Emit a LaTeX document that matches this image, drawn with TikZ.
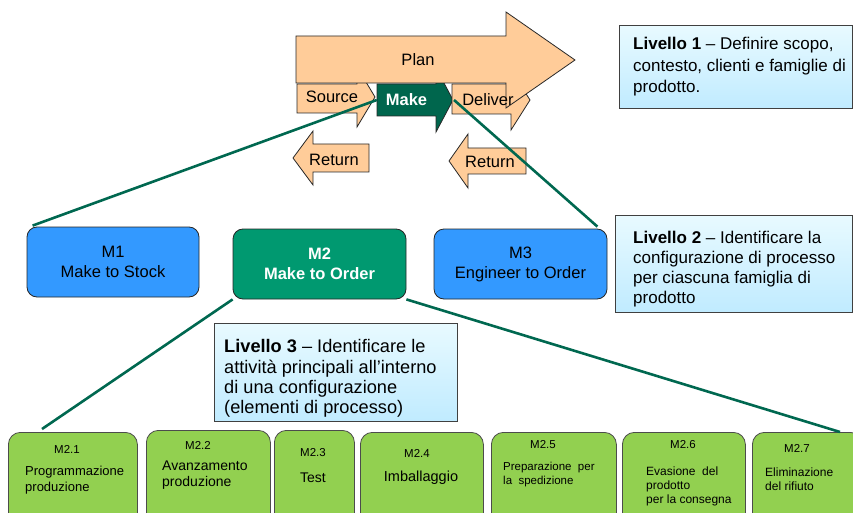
\documentclass[tikz,border=0pt]{standalone}
\usepackage{fontspec}
\setmainfont{Liberation Sans}
\definecolor{peach}{RGB}{255,204,153}
\definecolor{outl}{RGB}{40,40,40}
\definecolor{makegreen}{RGB}{0,102,77}
\definecolor{linegreen}{RGB}{0,104,80}
\definecolor{mtwo}{RGB}{0,153,112}
\definecolor{mblue}{RGB}{51,153,255}
\definecolor{boxgreen}{RGB}{146,208,80}
\definecolor{cyantop}{RGB}{232,250,255}
\definecolor{cyanbot}{RGB}{192,235,255}
\begin{document}
\begin{tikzpicture}[x=1pt,y=-1pt,
  peachshape/.style={fill=peach, draw=outl, line width=0.8pt, line join=miter},
  arrtxt/.style={font=\fontsize{16.5}{20}\selectfont, inner sep=0pt},
  mbox/.style={rounded corners=10pt, draw=black!85, line width=0.8pt, minimum width=173pt, minimum height=70pt, align=center, inner sep=0pt, font=\fontsize{16.5}{20}\selectfont},
  gbox/.style={rounded corners=12pt, draw=black!70, line width=0.8pt, fill=boxgreen, anchor=north west, minimum height=95pt, inner sep=0pt},
  lbox/.style={draw=black!75, line width=0.8pt, top color=cyantop, bottom color=cyanbot, anchor=north west, inner sep=0pt},
  ltext/.style={align=left, anchor=west, inner sep=0pt},
  glabel/.style={font=\fontsize{11.5}{14}\selectfont, inner sep=0pt},
  gtext/.style={align=left, anchor=west, inner sep=0pt},
  conn/.style={draw=linegreen, line width=2.6pt}]
\useasboundingbox (0,0) rectangle (853,513);
\clip (0,0) rectangle (853,513);

% Return arrows
\draw[peachshape] (293,158) -- (313,131) -- (313,144) -- (369,144) -- (369,172) -- (313,172) -- (313,185) -- cycle;
\draw[peachshape] (449,161) -- (468,134) -- (468,148) -- (526,148) -- (526,174) -- (468,174) -- (468,188) -- cycle;
% Source, Make, Deliver
\draw[peachshape] (297,84) -- (357,84) -- (357,67) -- (375,97) -- (357,127) -- (357,113) -- (297,113) -- cycle;
\draw[fill=makegreen, draw=outl, line width=0.8pt] (377,84) -- (436,84) -- (436,68) -- (453,100) -- (436,132) -- (436,116) -- (377,116) -- cycle;
\draw[peachshape] (452,84) -- (511,84) -- (511,70) -- (530,100) -- (511,130) -- (511,114) -- (452,114) -- cycle;
% Plan
\draw[peachshape] (296,36) -- (506,36) -- (506,12) -- (575,60) -- (506,108) -- (506,83) -- (296,83) -- cycle;

\node[arrtxt] (plan) at (418,60) {Plan};
\node[arrtxt] (source) at (332,97) {Source};
\node[arrtxt, minimum width=59pt, minimum height=32pt, text=white, font=\fontsize{16.5}{20}\selectfont\bfseries] (make) at (406.5,100) {Make};
\coordinate (maketip) at (454,100);
\node[arrtxt] (deliver) at (488,100) {Deliver};
\node[arrtxt] (return1) at (334,160) {Return};
\node[arrtxt] (return2) at (490,162) {Return};

% Level boxes
\node[lbox, minimum width=233pt, minimum height=83pt] (liv1box) at (619,25) {};
\node[ltext, font=\fontsize{17}{21.5}\selectfont] (liv1) at (633,67) {\textbf{Livello 1} -- Definire scopo,\\contesto, clienti e famiglie di\\prodotto.};
\node[lbox, minimum width=237pt, minimum height=97pt] (liv2box) at (615,215) {};
\node[ltext, font=\fontsize{17}{20}\selectfont] (liv2) at (633,269) {\textbf{Livello 2} -- Identificare la\\configurazione di processo\\per ciascuna famiglia di\\prodotto};
\node[lbox, minimum width=243pt, minimum height=98pt] (liv3box) at (214,323) {};
\node[ltext, font=\fontsize{18.2}{20.3}\selectfont] (liv3) at (224,378.5) {\textbf{Livello 3} -- Identificare le\\attività principali all’interno\\di una configurazione\\(elementi di processo)};

% M boxes
\node[mbox, fill=mblue, minimum width=172pt] (m1) at (113,262) {M1\\Make to Stock};
\node[mbox, fill=mtwo, text=white, font=\fontsize{16.5}{20}\selectfont\bfseries] (m2) at (319.5,264) {M2\\Make to Order};
\node[mbox, fill=mblue] (m3) at (520.5,264) {M3\\Engineer to Order};

% Green boxes
\node[gbox, minimum width=129pt] (m21) at (8,432) {};
\node[gbox, minimum width=124pt] (m22) at (146,430) {};
\node[gbox, minimum width=80pt] (m23) at (274,430) {};
\node[gbox, minimum width=123pt] (m24) at (360,432) {};
\node[gbox, minimum width=125pt] (m25) at (491,432) {};
\node[gbox, minimum width=123pt] (m26) at (622,432) {};
\node[gbox, minimum width=110pt] (m27) at (752,432) {};

\node[glabel] (l21) at (67,449) {M2.1};
\node[gtext, font=\fontsize{13}{16}\selectfont] (t21) at (25,480) {Programmazione\\produzione};
\node[glabel] (l22) at (198,445) {M2.2};
\node[gtext, font=\fontsize{14}{16}\selectfont] (t22) at (162,475) {Avanzamento\\produzione};
\node[glabel] (l23) at (313,453) {M2.3};
\node[arrtxt, font=\fontsize{14}{16}\selectfont] (t23) at (313,478) {Test};
\node[glabel] (l24) at (417,453) {M2.4};
\node[arrtxt, font=\fontsize{14.5}{16}\selectfont] (t24) at (421,478) {Imballaggio};
\node[glabel] (l25) at (543,445) {M2.5};
\node[gtext, font=\fontsize{11.5}{14}\selectfont] (t25) at (503,475) {Preparazione\ \ per\\la\ \ spedizione};
\node[glabel] (l26) at (683,445) {M2.6};
\node[gtext, font=\fontsize{12}{14}\selectfont] (t26) at (646,486) {Evasione\ \ del\\prodotto\\per la consegna};
\node[glabel] (l27) at (797,448) {M2.7};
\node[gtext, font=\fontsize{12}{14}\selectfont] (t27) at (765,479) {Eliminazione\\del rifiuto};

% Connectors
\draw[conn] (make.west) -- ([xshift=6pt,yshift=1pt]m1.north west);
\draw[conn] (maketip) -- ([xshift=-10pt,yshift=2pt]m3.north east);
\draw[conn] (m2.south west) -- ([xshift=34pt,yshift=3pt]m21.north west);
\draw[conn] (m2.south east) -- ([xshift=88pt]m27.north west);
\end{tikzpicture}
\end{document}
